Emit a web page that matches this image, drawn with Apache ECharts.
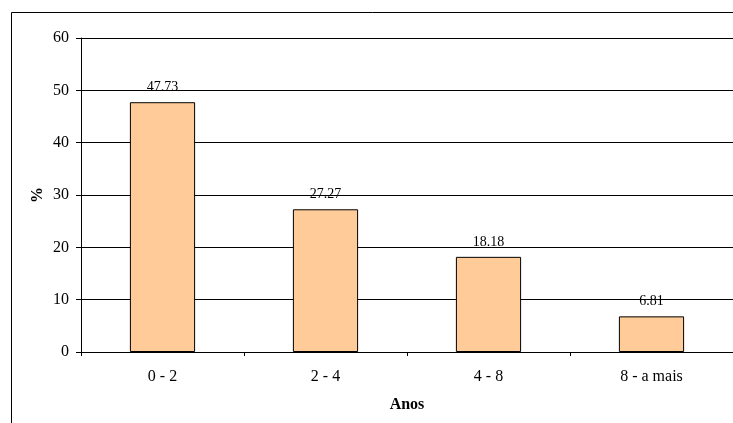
<!DOCTYPE html>
<html>
<head>
<meta charset="utf-8">
<script src="https://cdn.jsdelivr.net/npm/echarts@6/dist/echarts.min.js"></script>
<style>
  html, body { margin: 0; padding: 0; background: #fff; }
  #chart { width: 733px; height: 423px; }
</style>
</head>
<body>
<div id="chart"></div>
<script>
// Faixas de anos e percentuais correspondentes
const categories = ['0 - 2', '2 - 4', '4 - 8', '8 - a mais'];
const percentValues = [47.73, 27.27, 18.18, 6.81];
const yTicks = [0, 10, 20, 30, 40, 50, 60];

const font = '"Liberation Serif", "Times New Roman", serif';
const chart = echarts.init(document.getElementById('chart'), null, { renderer: 'canvas' });

chart.setOption({
  animation: false,
  backgroundColor: '#fff',
  textStyle: { fontFamily: font },
  graphic: [{
    type: 'rect',
    shape: { x: 11.5, y: 12.5, width: 800, height: 500 },
    style: { fill: 'none', stroke: '#000', lineWidth: 1 },
    silent: true
  }],
  grid: { left: 81, top: 38, width: 654, height: 314, containLabel: false },
  xAxis: {
    type: 'category',
    data: categories,
    name: 'Anos',
    nameLocation: 'middle',
    nameGap: 45,
    nameMoveOverlap: false,
    nameTextStyle: { fontFamily: font, fontSize: 16, fontWeight: 'bold', color: '#000' },
    axisLine: { lineStyle: { color: '#000', width: 1 } },
    axisTick: { show: true, length: 4, inside: false, lineStyle: { color: '#000' } },
    axisLabel: { fontFamily: font, fontSize: 16, color: '#000', margin: 17 },
    splitLine: { show: false }
  },
  yAxis: {
    type: 'value',
    min: yTicks[0],
    max: yTicks[yTicks.length - 1],
    interval: 10,
    name: '%',
    nameLocation: 'middle',
    nameGap: 35,
    nameMoveOverlap: false,
    nameRotate: 90,
    nameTextStyle: { fontFamily: font, fontSize: 16, fontWeight: 'bold', color: '#000' },
    axisLine: { show: true, lineStyle: { color: '#000', width: 1 } },
    axisTick: { show: true, length: 5, lineStyle: { color: '#000' } },
    axisLabel: { fontFamily: font, fontSize: 16, color: '#000', margin: 12 },
    splitLine: { show: true, lineStyle: { color: '#000', width: 1 } }
  },
  series: [{
    type: 'bar',
    data: percentValues,
    barWidth: '40%',
    itemStyle: { color: '#FFCC99', borderColor: '#000', borderWidth: 1 },
    label: {
      show: true,
      position: 'top',
      distance: 8,
      fontFamily: font,
      fontSize: 14,
      color: '#000',
      formatter: p => p.value.toFixed(2)
    }
  }]
});
</script>
</body>
</html>
